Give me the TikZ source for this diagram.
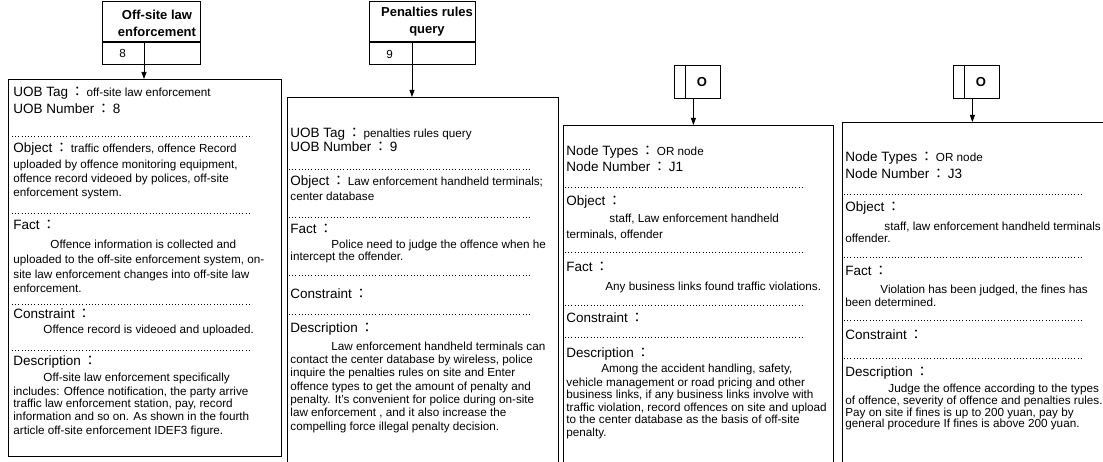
\documentclass[tikz,border=0pt]{standalone}
\usepackage{fontspec}
\setmainfont{Liberation Sans}
\newfontfamily\cjk{Noto Sans CJK JP}
\usetikzlibrary{arrows.meta}
\newcommand{\hdf}{\fontsize{13.5}{15}\selectfont}
\newcommand{\lbl}[1]{{\hdf #1\hspace{2.5pt}{\cjk ：}\hspace{2.5pt}}}

\begin{document}
\begin{tikzpicture}[x=1pt, y=-1pt, inner sep=0pt, line width=0.8pt]
            \useasboundingbox (0,0) rectangle (1103,462);

            \tikzstyle{box}=[draw, anchor=north west]
            \tikzstyle{txt}=[anchor=base west, font=\fontsize{11.7}{13}\selectfont]
            \tikzstyle{ttl}=[align=center, font=\bfseries\fontsize{13}{17}\selectfont]
            \tikzstyle{arr}=[-{Triangle[width=5pt,length=7pt]}]
            \tikzstyle{dotrow}=[dash pattern=on 0.8pt off 2.4pt, line width=0.9pt]

            \node[box, minimum width=98pt, minimum height=40pt] (u8) at (102,1.5) {};
            \node[box, minimum width=98pt, minimum height=22pt] (n8) at (u8.south west) {};
            \node[ttl] (t8) at (157,23) {Off-site law\\enforcement};
            \node[txt] (k8) at (119,58) {8};
            \coordinate (d8) at (144,63);
            \draw (d8 |- n8.north) -- (d8);

            \node[box, minimum width=106pt, minimum height=40pt] (u9) at (369,1.5) {};
            \node[box, minimum width=106pt, minimum height=22pt] (n9) at (u9.south west) {};
            \node[ttl] (t9) at (427,22) {Penalties rules\\query};
            \node[txt] (k9) at (386,59) {9};
            \coordinate (d9) at (412,63);
            \draw (d9 |- n9.north) -- (d9);

            \node[box, minimum width=46pt, minimum height=33pt] (j1) at (674,65) {};
            \draw ([xshift=11pt]j1.north west) -- ([xshift=11pt]j1.south west);
            \node[font=\bfseries\fontsize{13}{13}\selectfont] (o1) at (702,82) {O};
            \node[box, minimum width=46pt, minimum height=33pt] (j3) at (953,65) {};
            \draw ([xshift=11pt]j3.north west) -- ([xshift=11pt]j3.south west);
            \node[font=\bfseries\fontsize{13}{13}\selectfont] (o3) at (981,82) {O};

            \node[box, minimum width=273pt, minimum height=377pt] (b1) at (8,79) {};
            \node[box, minimum width=271pt, minimum height=380pt] (b2) at (287,97) {};
            \node[box, minimum width=270pt, minimum height=350pt] (b3) at (563,125) {};
            \node[box, minimum width=280pt, minimum height=350pt] (b4) at (842,122) {};

            \draw[arr] (d8) -- (d8 |- b1.north);
            \draw[arr] (d9) -- (d9 |- b2.north);
            \draw[arr] ([xshift=-4pt]j1.south) -- ([xshift=-4pt]j1.south |- b3.north);
            \draw[arr] ([xshift=-4pt]j3.south) -- ([xshift=-4pt]j3.south |- b4.north);

            \foreach \y in {136,213,304,350} \draw[dotrow] (12,\y) -- (252,\y);
            \foreach \y in {169,217,275,314} \draw[dotrow] (289,\y) -- (530,\y);
            \foreach \y in {187,252,305,337} \draw[dotrow] (565,\y) -- (805,\y);
            \foreach \y in {194,257,320,358} \draw[dotrow] (844,\y) -- (1082,\y);

            \foreach \y/\x/\t [count=\i] in {
                97/13/{\lbl{UOB Tag}off-site law enforcement},
                114/13/{\lbl{UOB Number}{\hdf 8}},
                153/13/{\lbl{Object}traffic offenders, offence Record},
                169/13/{uploaded by offence monitoring equipment,},
                183/13/{offence record videoed by polices, off-site},
                197/13/{enforcement system.},
                230/13/{\lbl{Fact}},
                249/50/{Offence information is collected and},
                264/13/{uploaded to the off-site enforcement system, on-},
                279/13/{site law enforcement changes into off-site law},
                293/13/{enforcement.},
                319/13/{\lbl{Constraint}},
                334/43/{Offence record is videoed and uploaded.},
                365/13/{\lbl{Description}},
                381/43/{Off-site law enforcement specifically},
                395/13/{includes: Offence notification, the party arrive},
                407/13/{traffic law enforcement station, pay, record},
                420/13/{information and so on. As shown in the fourth},
                434/13/{article off-site enforcement IDEF3 figure.}}
                \node[txt] (p8-\i) at (\x,\y) {\t};

            \foreach \y/\x/\t [count=\i] in {
                138/290/{\lbl{UOB Tag}penalties rules query},
                152/290/{\lbl{UOB Number}{\hdf 9}},
                186/290/{\lbl{Object}Law enforcement handheld terminals;},
                201/290/{center database},
                234/290/{\lbl{Fact}},
                249/331/{Police need to judge the offence when he},
                261/290/{intercept the offender.},
                299/290/{\lbl{Constraint}},
                333/290/{\lbl{Description}},
                350/331/{Law enforcement handheld terminals can},
                363/290/{contact the center database by wireless, police},
                376/290/{inquire the penalties rules on site and Enter},
                390/290/{offence types to get the amount of penalty and},
                403/290/{penalty. It's convenient for police during on-site},
                416/290/{law enforcement , and it also increase the},
                430/290/{compelling force illegal penalty decision.}}
                \node[txt] (p9-\i) at (\x,\y) {\t};

            \foreach \y/\x/\t [count=\i] in {
                156/566/{\lbl{Node Types}OR node},
                172/566/{\lbl{Node Number}{\hdf J1}},
                206/566/{\lbl{Object}},
                223/609/{staff, Law enforcement handheld},
                239/566/{terminals, offender},
                272/566/{\lbl{Fact}},
                291/605/{Any business links found traffic violations.},
                323/566/{\lbl{Constraint}},
                357/566/{\lbl{Description}},
                372/601/{Among the accident handling, safety,},
                386/566/{vehicle management or road pricing and other},
                398/566/{business links, if any business links involve with},
                411/566/{traffic violation, record offences on site and upload},
                423/566/{to the center database as the basis of off-site},
                436/566/{penalty.}}
                \node[txt] (pj1-\i) at (\x,\y) {\t};

            \foreach \y/\x/\t [count=\i] in {
                162/845/{\lbl{Node Types}OR node},
                179/845/{\lbl{Node Number}{\hdf J3}},
                212/845/{\lbl{Object}},
                231/884/{staff, law enforcement handheld terminals},
                243/845/{offender.},
                276/845/{\lbl{Fact}},
                294/880/{Violation has been judged, the fines has},
                307/845/{been determined.},
                339/845/{\lbl{Constraint}},
                376/845/{\lbl{Description}},
                392/888/{Judge the offence according to the types},
                404/845/{of offence, severity of offence and penalties rules.},
                416/845/{Pay on site if fines is up to 200 yuan, pay by},
                427/845/{general procedure If fines is above 200 yuan.}}
                \node[txt] (pj3-\i) at (\x,\y) {\t};
         \end{tikzpicture}
\end{document}
